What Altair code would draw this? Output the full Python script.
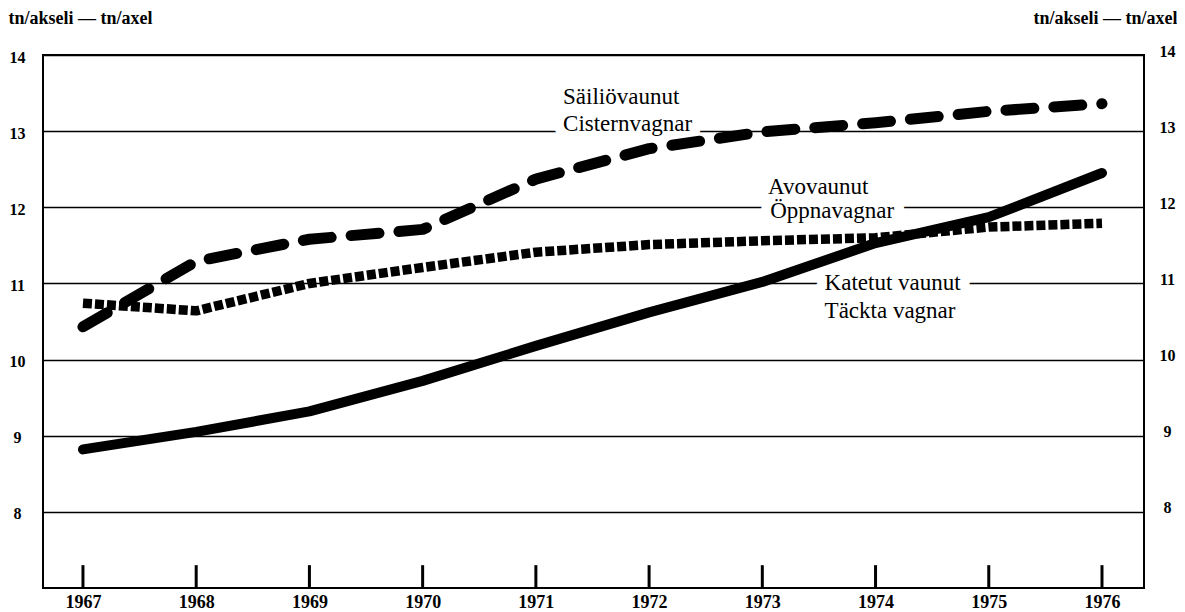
import altair as alt
import pandas as pd

# ---- data ----
years = [1967, 1968, 1969, 1970, 1971, 1972, 1973, 1974, 1975, 1976]
katetut = [8.82, 9.05, 9.32, 9.72, 10.18, 10.62, 11.02, 11.53, 11.87, 12.45]   # solid
sailio = [10.43, 11.29, 11.58, 11.71, 12.37, 12.77, 12.99, 13.11, 13.26, 13.36]  # dashed
avo = [10.74, 10.64, 11.00, 11.21, 11.41, 11.51, 11.56, 11.60, 11.74, 11.79]     # dotted

y_ticks = [8, 9, 10, 11, 12, 13, 14]
axis_title = "tn/akseli — tn/axel"

label_texts = ["Säiliövaunut", "Cisternvagnar", "Avovaunut", "Öppnavagnar",
               "Katetut  vaunut", "Täckta  vagnar"]
label_x = [1971.24, 1971.24, 1973.05, 1973.07, 1973.55, 1973.55]
label_y = [13.36, 13.0, 12.18, 11.855, 10.91, 10.54]

X_DOMAIN = [1966.647, 1976.371]
Y_DOMAIN = [7, 14]
FONT = "Liberation Serif"

df_k = pd.DataFrame({"year": years, "value": katetut})
df_s = pd.DataFrame({"year": years, "value": sailio})
df_a = pd.DataFrame({"year": years, "value": avo})
df_lab = pd.DataFrame({"x": label_x, "y": label_y, "text": label_texts})
df_ticks = pd.DataFrame({"year": years, "lo": [7.0] * len(years), "hi": [7.3] * len(years)})

x_scale = alt.Scale(domain=X_DOMAIN, nice=False, zero=False)
y_scale = alt.Scale(domain=Y_DOMAIN, nice=False, zero=False)

x_axis = alt.Axis(values=years, format="d", ticks=False, domain=False, grid=False,
                  labelFont=FONT, labelFontSize=18, labelFontWeight="bold",
                  labelColor="black", labelPadding=5, title=None)

left_axis = alt.Axis(values=y_ticks, format="d", ticks=False, domain=False,
                     grid=True, gridColor="black", gridWidth=1.5, gridOpacity=1,
                     labelFont=FONT, labelFontSize=16, labelFontWeight="bold",
                     labelColor="black", labelAlign="center", labelPadding=26,
                     labelOffset=2, title=axis_title, titleAngle=0,
                     titleFont=FONT, titleFontSize=18, titleFontWeight="bold",
                     titleColor="black", titleAlign="left", titleBaseline="middle",
                     titleX=-35, titleY=-37)

right_axis = alt.Axis(values=y_ticks, format="d", ticks=False, domain=False,
                      grid=False, orient="right",
                      labelFont=FONT, labelFontSize=16, labelFontWeight="bold",
                      labelColor="black", labelAlign="center", labelPadding=23,
                      labelOffset=-4, title=axis_title, titleAngle=0,
                      titleFont=FONT, titleFontSize=18, titleFontWeight="bold",
                      titleColor="black", titleAlign="right", titleBaseline="middle",
                      titleX=33, titleY=-37)

X = alt.X("year:Q", scale=x_scale, axis=x_axis)

halo = alt.Chart(df_lab).mark_text(
    align="left", baseline="alphabetic", font=FONT, fontSize=23,
    fill="white", stroke="white", strokeWidth=20, strokeJoin="round"
).encode(
    x=alt.X("x:Q", scale=x_scale, axis=x_axis),
    y=alt.Y("y:Q", scale=y_scale, axis=left_axis),
    text="text:N",
)

solid = alt.Chart(df_k).mark_line(
    color="black", strokeWidth=10, strokeCap="round", strokeJoin="round"
).encode(x=X, y=alt.Y("value:Q", scale=y_scale, axis=None))

dashed = alt.Chart(df_s).mark_line(
    color="black", strokeWidth=11, strokeCap="round", strokeJoin="round",
    strokeDash=[28, 20]
).encode(x=X, y=alt.Y("value:Q", scale=y_scale, axis=None))

dotted = alt.Chart(df_a).mark_line(
    color="black", strokeWidth=9.5, strokeCap="butt", strokeJoin="round",
    strokeDash=[9, 3]
).encode(x=X, y=alt.Y("value:Q", scale=y_scale, axis=None))

texts = alt.Chart(df_lab).mark_text(
    align="left", baseline="alphabetic", font=FONT, fontSize=23, color="black"
).encode(
    x=alt.X("x:Q", scale=x_scale, axis=x_axis),
    y=alt.Y("y:Q", scale=y_scale, axis=None),
    text="text:N",
)

ticks = alt.Chart(df_ticks).mark_rule(color="black", strokeWidth=3).encode(
    x=X,
    y=alt.Y("lo:Q", scale=y_scale, axis=right_axis),
    y2="hi:Q",
)

chart = alt.layer(halo, solid, dashed, dotted, texts, ticks).resolve_scale(
    y="independent"
).properties(
    width=1101,
    height=533,
    autosize=alt.AutoSizeParams(type="none"),
    padding={"left": 35, "top": 47, "right": 33, "bottom": 22},
    background="white",
).configure_view(stroke="black", strokeWidth=2)

chart.save("out.html", embed_options={"renderer": "svg", "actions": False})
